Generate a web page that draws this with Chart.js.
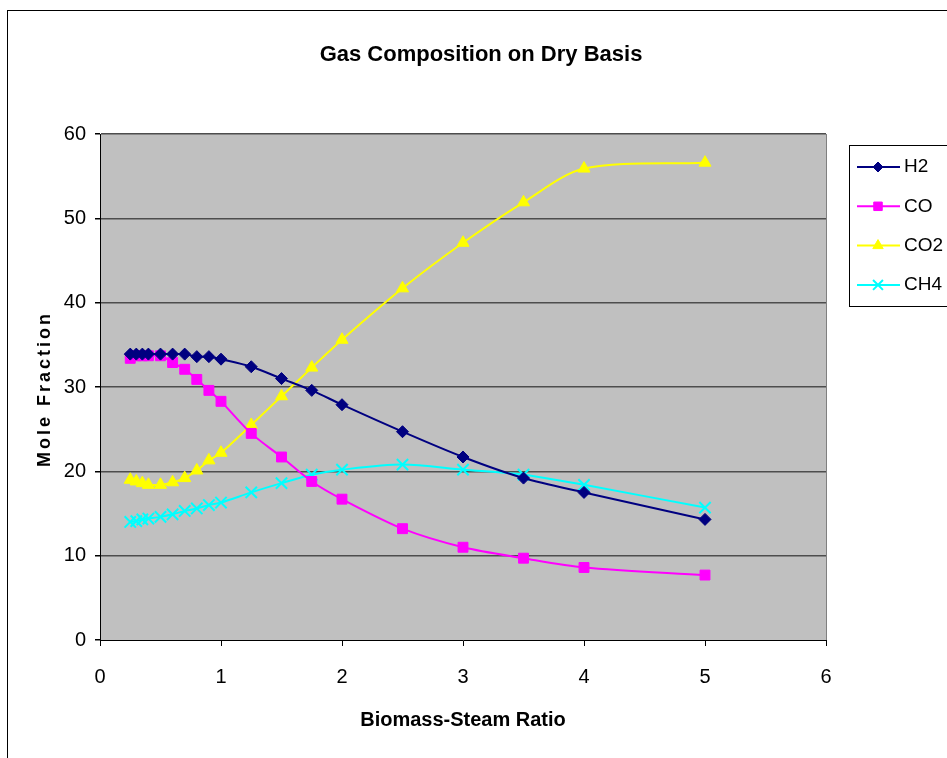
<!DOCTYPE html>
<html lang="en">
<head>
<meta charset="UTF-8">
<title>Gas Composition on Dry Basis</title>
<script src="https://cdn.jsdelivr.net/npm/chart.js"></script>
<style>
  html, body { margin: 0; padding: 0; background: #fff; }
  canvas { display: block; }
</style>
</head>
<body>
<canvas id="gasChart" width="947" height="758"></canvas>
<script>
  // biomass-steam ratio (x axis)
  var ratios = [0.25, 0.3, 0.35, 0.4, 0.5, 0.6, 0.7, 0.8, 0.9, 1.0, 1.25, 1.5, 1.75, 2, 2.5, 3, 3.5, 4, 5];

  // mole fraction per gas
  var h2  = [33.9, 33.9, 33.9, 33.9, 33.9, 33.9, 33.9, 33.6, 33.6, 33.3, 32.4, 31.0, 29.6, 27.9, 24.7, 21.7, 19.2, 17.5, 14.3];
  var co  = [33.4, 33.7, 33.7, 33.7, 33.7, 32.9, 32.1, 30.9, 29.6, 28.3, 24.5, 21.7, 18.8, 16.7, 13.2, 11.0, 9.7, 8.6, 7.7];
  var co2 = [19.0, 18.8, 18.6, 18.4, 18.4, 18.7, 19.2, 20.1, 21.3, 22.2, 25.5, 28.9, 32.3, 35.6, 41.7, 47.1, 51.9, 55.9, 56.6];
  var ch4 = [14.0, 14.1, 14.3, 14.4, 14.6, 14.9, 15.3, 15.6, 16.0, 16.3, 17.5, 18.6, 19.6, 20.2, 20.8, 20.2, 19.6, 18.4, 15.7];

  var seriesNames = ['H2', 'CO', 'CO2', 'CH4'];
  var xRange = [0, 6];
  var yRange = [0, 60];

  var FONT = '"Liberation Sans", Arial, sans-serif';

  function toPoints(vals) {
    return ratios.map(function (x, i) { return { x: x, y: vals[i] }; });
  }

  function series(label, vals, color, style, radius, bw) {
    return {
      label: label,
      data: toPoints(vals),
      borderColor: color,
      backgroundColor: color,
      borderWidth: 2,
      tension: 0.3,
      pointStyle: style,
      pointRadius: radius,
      pointBackgroundColor: color,
      pointBorderColor: color,
      pointBorderWidth: bw
    };
  }

  // grey plot area, outer frame, right edge of the plot
  var frame = {
    id: 'frame',
    beforeDraw: function (chart) {
      var ctx = chart.ctx, a = chart.chartArea;
      ctx.save();
      ctx.fillStyle = '#c0c0c0';
      ctx.fillRect(a.left, a.top, a.right - a.left, a.bottom - a.top);
      ctx.strokeStyle = '#000';
      ctx.lineWidth = 1;
      ctx.strokeRect(7.5, 10.5, 2000, 2000);
      ctx.restore();
    },
    afterDraw: function (chart) {
      var ctx = chart.ctx, a = chart.chartArea;
      ctx.save();
      ctx.strokeStyle = '#808080';
      ctx.lineWidth = 1;
      ctx.beginPath();
      ctx.moveTo(a.right + 0.5, a.top);
      ctx.lineTo(a.right + 0.5, a.bottom);
      ctx.stroke();

      // chart title
      ctx.fillStyle = '#000';
      ctx.font = 'bold 22px ' + FONT;
      ctx.textAlign = 'center';
      ctx.textBaseline = 'alphabetic';
      ctx.fillText('Gas Composition on Dry Basis', 481, 61);

      // y axis title, spaced out like the original
      ctx.save();
      ctx.translate(45, 389);
      ctx.rotate(-Math.PI / 2);
      ctx.font = 'bold 18px ' + FONT;
      ctx.letterSpacing = '3px';
      ctx.textBaseline = 'middle';
      ctx.fillText('Mole Fraction', 0, 0);
      ctx.restore();
      ctx.restore();
    }
  };

  // boxed legend on the right
  var boxLegend = {
    id: 'boxLegend',
    afterDraw: function (chart) {
      var ctx = chart.ctx;
      ctx.save();
      ctx.fillStyle = '#fff';
      ctx.fillRect(849.5, 145.5, 200, 161);
      ctx.strokeStyle = '#000';
      ctx.lineWidth = 1;
      ctx.strokeRect(849.5, 145.5, 200, 161);
      chart.data.datasets.forEach(function (ds, i) {
        var y = 167 + i * 39.3;
        ctx.strokeStyle = ds.borderColor;
        ctx.lineWidth = 2;
        ctx.beginPath();
        ctx.moveTo(857, y);
        ctx.lineTo(900, y);
        ctx.stroke();
        ctx.fillStyle = ds.pointBackgroundColor;
        ctx.lineWidth = ds.pointBorderWidth;
        if (Chart.helpers && Chart.helpers.drawPoint) {
          Chart.helpers.drawPoint(ctx, {
            pointStyle: ds.pointStyle,
            radius: ds.pointRadius - 1,
            borderWidth: ds.pointBorderWidth,
            rotation: 0
          }, 878, y);
        }
        ctx.fillStyle = '#000';
        ctx.font = '19px ' + FONT;
        ctx.textAlign = 'left';
        ctx.textBaseline = 'middle';
        ctx.fillText(ds.label, 904, y);
      });
      ctx.restore();
    }
  };

  var ctx = document.getElementById('gasChart').getContext('2d');
  new Chart(ctx, {
    type: 'line',
    data: {
      datasets: [
        series(seriesNames[0], h2, '#000080', 'rectRot', 6, 1),
        series(seriesNames[1], co, '#ff00ff', 'rect', 7, 1),
        series(seriesNames[2], co2, '#ffff00', 'triangle', 7, 1),
        series(seriesNames[3], ch4, '#00ffff', 'crossRot', 8, 2)
      ]
    },
    options: {
      responsive: false,
      animation: false,
      layout: { padding: { left: 0, right: 121, top: 134, bottom: 0 } },
      plugins: {
        legend: { display: false },
        title: { display: false },
        tooltip: { enabled: false }
      },
      scales: {
        x: {
          type: 'linear',
          min: xRange[0],
          max: xRange[1],
          ticks: { stepSize: 1, color: '#000', padding: 19, font: { family: FONT, size: 20 } },
          grid: { drawOnChartArea: false, tickLength: 6, tickColor: '#000' },
          border: { color: '#000', width: 1 },
          title: {
            display: true,
            text: 'Biomass-Steam Ratio',
            color: '#000',
            font: { family: FONT, size: 20, weight: 'bold' },
            padding: { top: 0, bottom: 26 }
          },
          afterFit: function (s) { s.height = 118; }
        },
        y: {
          min: yRange[0],
          max: yRange[1],
          ticks: { stepSize: 10, color: '#000', padding: 9, font: { family: FONT, size: 20 } },
          grid: {
            color: function (c) { return c.tick && c.tick.value === 0 ? 'rgba(0,0,0,0)' : '#4d4d4d'; },
            lineWidth: 1.5,
            tickLength: 5,
            tickColor: '#000'
          },
          border: { color: '#000', width: 1 },
          afterFit: function (s) { s.height = s.height; s.width = 100; }
        }
      }
    },
    plugins: [frame, boxLegend]
  });
</script>
</body>
</html>
